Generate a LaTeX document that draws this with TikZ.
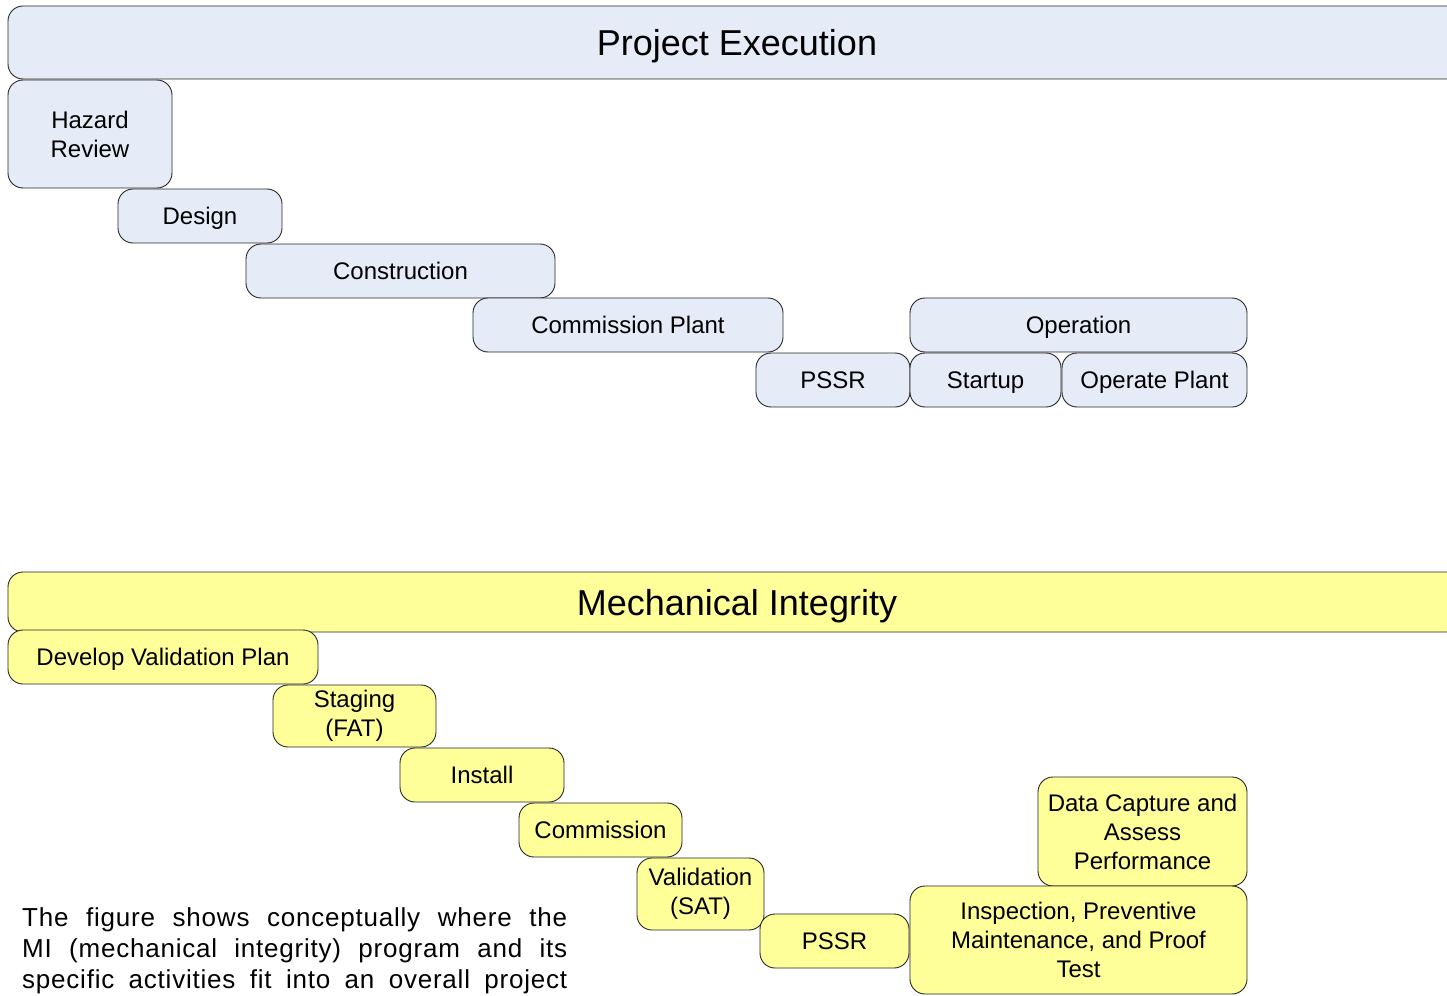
\documentclass[tikz,border=0pt]{standalone}
\usepackage{fontspec}
\setmainfont{Liberation Sans}
\usepackage{tikz}
\usetikzlibrary{positioning}
\usepackage{xcolor}
\definecolor{peblue}{RGB}{230,236,247}
\definecolor{miyellow}{RGB}{255,255,153}

\tikzset{
  phase/.style={draw=black!85, line width=0.9pt, rounded corners=15pt,
    inner sep=0pt, align=center, font=\fontsize{24}{29}\selectfont},
  oneline/.style={text height=17pt, text depth=0pt},
  peBox/.style={phase, fill=peblue},
  miBox/.style={phase, fill=miyellow},
  title/.style={font=\fontsize{36}{43}\selectfont, text height=26pt, text depth=0pt}
}

\begin{document}
\begin{tikzpicture}[x=1pt,y=-1pt]
        \clip (0,0) rectangle (1447,995);

        % project execution
        \node[peBox, title, minimum width=1458, minimum height=73] (pe) at (737,42.5) {Project Execution};
        \node[peBox, minimum width=164, minimum height=108] (hazard) at (90,134) {Hazard\\Review};
        \node[peBox, oneline, minimum width=164, minimum height=54] (design) at (200,216) {Design};
        \node[peBox, oneline, minimum width=309, minimum height=54] (constr) at (400.5,271) {Construction};
        \node[peBox, oneline, minimum width=310, minimum height=54] (complant) at (628,325) {Commission Plant};
        \node[peBox, oneline, minimum width=154, minimum height=54] (pssrA) at (833,380) {PSSR};
        \node[peBox, oneline, minimum width=337, minimum height=54] (oper) at (1078.5,325) {Operation};
        \node[peBox, oneline, minimum width=151, minimum height=54] (startup) at (985.5,380) {Startup};
        \node[peBox, oneline, minimum width=185, minimum height=54] (opplant) at (1154.5,380) {Operate Plant};

        % mechanical integrity
        \node[miBox, title, minimum width=1458, minimum height=60] (mi) at (737,602) {Mechanical Integrity};
        \node[miBox, oneline, minimum width=310, minimum height=54] (valplan) at (163,657) {Develop Validation Plan};
        \node[miBox, minimum width=163, minimum height=62] (staging) at (354.5,716) {Staging\\(FAT)};
        \node[miBox, oneline, minimum width=164, minimum height=54] (install) at (482,775) {Install};
        \node[miBox, oneline, minimum width=163, minimum height=54] (commis) at (600.5,830) {Commission};
        \node[miBox, minimum width=127, minimum height=72] (valid) at (700.5,894) {Validation\\(SAT)};
        \node[miBox, oneline, minimum width=149, minimum height=54] (pssrB) at (834.5,941) {PSSR};
        \node[miBox, minimum width=209, minimum height=109] (datacap) at (1142.5,831.5) {Data Capture and\\Assess\\Performance};
        \node[miBox, minimum width=337, minimum height=108] (inspect) at (1078.5,940) {Inspection, Preventive\\Maintenance, and Proof\\Test};

        % caption text
        \node[anchor=north west, inner sep=0pt, text width=545pt, align=justify,
          font=\fontsize{26}{31}\selectfont\addfontfeature{LetterSpace=3}] (caption) at (22,907)
          {\parfillskip=0pt The figure shows conceptually where the\linebreak
           MI (mechanical integrity) program and its\linebreak
           specific activities fit into an overall project\par};
\end{tikzpicture}
\end{document}
